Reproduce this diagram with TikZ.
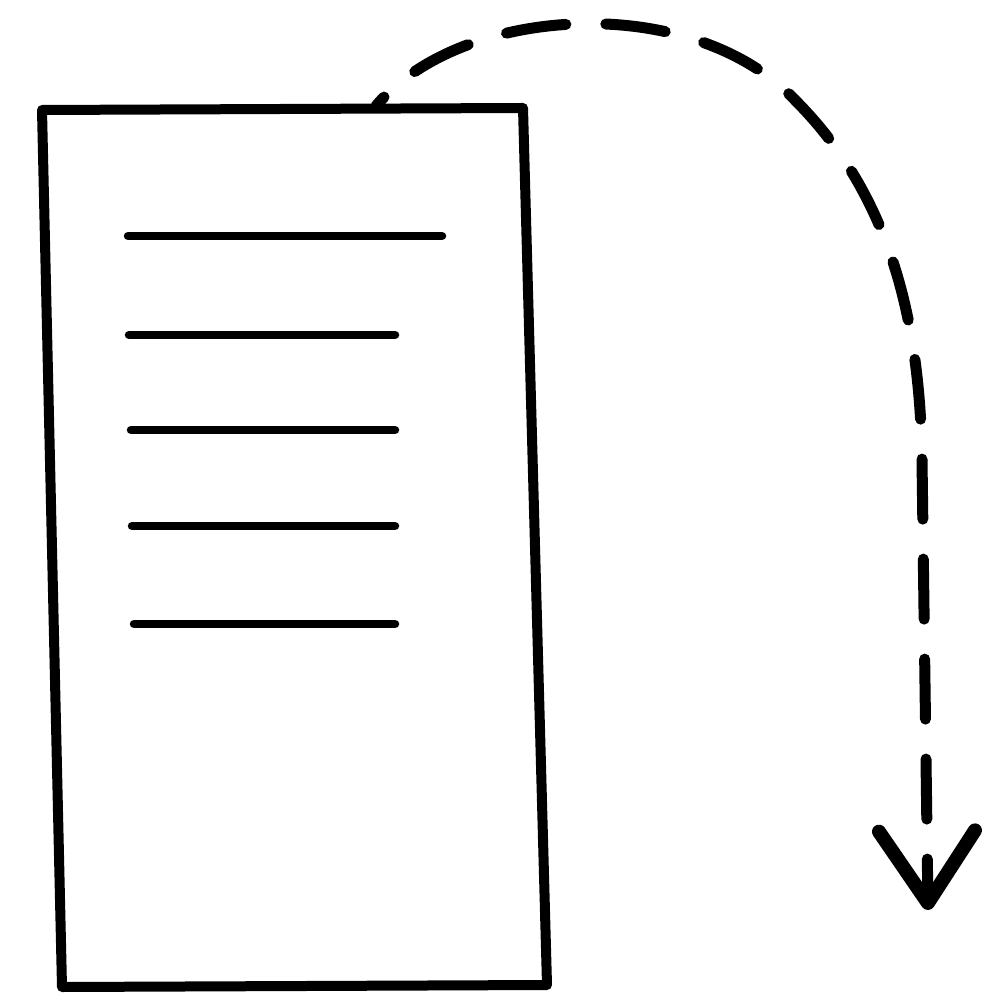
\documentclass[tikz,border=0pt]{standalone}
\usetikzlibrary{arrows.meta}

\begin{document}
\begin{tikzpicture}[x=0.1mm, y=-0.1mm]
    % Define styles
    \tikzset{
        docedge/.style={draw=black, line width=1mm, line join=round},
        textline/.style={draw=black, line width=0.85mm, line cap=round},
        flow/.style={draw=black, line width=1.1mm, line cap=round,
            dash pattern=on 6mm off 4mm, dash phase=4.8mm,
            -{Straight Barb[length=7.2mm, width=9.6mm, line width=1.4mm, line cap=round, line join=round]}}
    }
    \useasboundingbox (0,0) rectangle (1004,993);

    % Page
    \coordinate (tl) at (42,110);
    \coordinate (tr) at (523,108);
    \coordinate (br) at (547,985);
    \coordinate (bl) at (62,987);
    \draw[docedge] (tl) -- (tr) -- (br) -- (bl) -- cycle;

    % Text lines
    \draw[textline] (128,236) -- (442,236);
    \draw[textline] (129,335) -- (395,335);
    \draw[textline] (131,430) -- (395,430);
    \draw[textline] (132,526) -- (395,526);
    \draw[textline] (134,624) -- (395,624);

    % Arrow
    \coordinate (start) at (376,106);
    \coordinate (bend) at (795,100);
    \coordinate (tip) at (928,910);
    \draw[flow] (start) .. controls (460,5) and (690,-10) .. (bend)
        .. controls (890,195) and (920,320) .. (922,460) -- (tip);
\end{tikzpicture}
\end{document}
